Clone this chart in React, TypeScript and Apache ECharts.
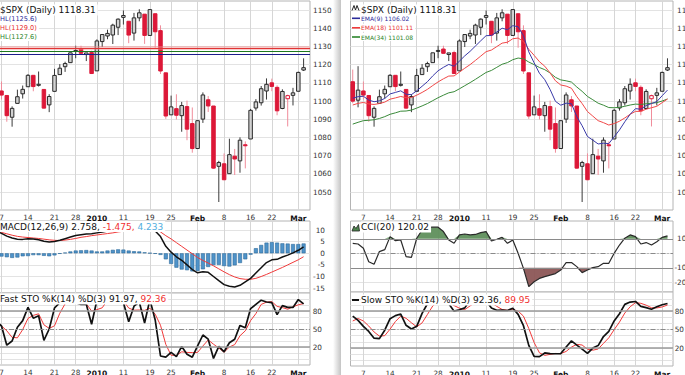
import React, { useEffect, useRef } from 'react';
import * as echarts from 'echarts';

// ---------- data (bar 0 = 2009-12-03) ----------
const dates = [
  '2009-12-03','2009-12-04','2009-12-07','2009-12-08','2009-12-09','2009-12-10','2009-12-11',
  '2009-12-14','2009-12-15','2009-12-16','2009-12-17','2009-12-18','2009-12-21','2009-12-22',
  '2009-12-23','2009-12-24','2009-12-28','2009-12-29','2009-12-30','2009-12-31','2010-01-04',
  '2010-01-05','2010-01-06','2010-01-07','2010-01-08','2010-01-11','2010-01-12','2010-01-13',
  '2010-01-14','2010-01-15','2010-01-19','2010-01-20','2010-01-21','2010-01-22','2010-01-25',
  '2010-01-26','2010-01-27','2010-01-28','2010-01-29','2010-02-01','2010-02-02','2010-02-03',
  '2010-02-04','2010-02-05','2010-02-08','2010-02-09','2010-02-10','2010-02-11','2010-02-12',
  '2010-02-16','2010-02-17','2010-02-18','2010-02-19','2010-02-22','2010-02-23','2010-02-24',
  '2010-02-25','2010-02-26','2010-03-01','2010-03-02',
];
const priorClose = 1109.24;
const opens = [
  1110.59,1100.43,1105.52,1103.04,1091.07,1098.69,1103.96,1107.84,1114.11,1108.61,
  1106.36,1097.86,1105.31,1114.51,1118.84,1121.08,1127.53,1128.55,1125.53,1126.60,
  1116.56,1132.66,1135.71,1136.27,1140.52,1145.96,1143.81,1137.31,1145.68,1147.72,
  1136.03,1147.95,1138.68,1115.49,1092.40,1095.80,1091.94,1096.93,1087.61,1073.89,
  1090.05,1100.67,1097.25,1064.12,1065.51,1060.06,1069.68,1067.10,1075.95,1079.13,
  1096.14,1099.03,1105.49,1110.00,1107.49,1095.89,1101.24,1103.10,1105.36,1117.01,
];
const highs = [
  1117.28,1119.13,1110.72,1103.04,1097.04,1106.25,1108.50,1114.76,1114.11,1116.21,
  1106.36,1103.74,1117.68,1120.27,1121.58,1126.48,1130.38,1130.38,1126.42,1127.64,
  1133.87,1136.63,1139.19,1142.46,1145.39,1149.74,1143.81,1148.40,1150.41,1147.77,
  1150.45,1147.95,1141.58,1115.49,1102.97,1103.69,1099.51,1100.22,1096.45,1089.38,
  1104.73,1102.72,1097.25,1067.13,1071.20,1079.28,1073.67,1080.04,1077.81,1095.67,
  1101.03,1108.24,1112.42,1112.29,1108.58,1106.42,1103.50,1107.24,1116.11,1123.46,
];
const lows = [
  1098.74,1096.52,1100.83,1088.61,1085.89,1098.69,1101.34,1107.84,1105.35,1107.96,
  1095.88,1093.88,1105.31,1114.51,1116.00,1121.08,1123.51,1126.08,1121.94,1114.81,
  1116.56,1129.66,1133.95,1131.32,1136.22,1142.02,1131.77,1133.18,1143.80,1131.39,
  1135.77,1129.25,1114.84,1090.18,1092.40,1089.86,1083.11,1078.46,1071.59,1073.89,
  1087.96,1093.97,1062.78,1044.50,1056.51,1060.06,1059.34,1060.59,1062.97,1079.13,
  1094.72,1097.48,1100.80,1105.38,1092.18,1095.50,1086.02,1097.56,1105.36,1116.51,
];
const closes = [
  1099.92,1105.98,1103.25,1091.94,1095.95,1102.35,1106.41,1114.11,1107.93,1109.18,
  1096.08,1102.47,1114.05,1118.02,1120.59,1126.48,1127.78,1126.20,1126.42,1115.10,
  1132.99,1136.52,1137.14,1141.69,1144.98,1146.98,1136.22,1145.68,1148.46,1136.03,
  1150.23,1138.04,1116.48,1091.76,1096.78,1092.17,1097.50,1084.53,1073.87,1089.19,
  1103.32,1097.28,1063.11,1066.19,1056.74,1070.52,1068.13,1078.47,1075.51,1094.87,
  1099.51,1106.75,1109.17,1108.01,1094.60,1105.24,1102.94,1104.49,1115.71,1118.31,
];
const ema9 = [
  1101.5,1102.4,1102.6,1100.5,1099.6,1100.1,1101.4,1103.9,1104.7,1105.6,
  1103.7,1103.5,1105.6,1108.1,1110.6,1113.8,1116.6,1118.5,1120.1,1119.1,
  1121.9,1124.8,1127.3,1130.2,1133.1,1135.9,1136.0,1137.9,1140.0,1139.2,
  1141.4,1140.8,1135.9,1127.0,1121.0,1115.2,1111.7,1106.3,1099.8,1097.7,
  1098.8,1098.5,1091.4,1086.4,1080.5,1078.5,1076.4,1076.8,1076.6,1080.3,
  1084.1,1088.6,1092.7,1095.8,1095.5,1097.5,1098.6,1099.7,1102.9,1106.0,
];
const ema18 = [
  1097.8,1098.7,1099.2,1098.4,1098.1,1098.6,1099.4,1101.0,1101.7,1102.5,
  1101.8,1101.9,1103.2,1104.7,1106.4,1108.5,1110.5,1112.2,1113.7,1113.8,
  1115.9,1118.0,1120.0,1122.3,1124.7,1127.1,1128.0,1129.9,1131.8,1132.3,
  1134.2,1134.6,1132.7,1128.4,1125.1,1121.6,1119.1,1115.4,1111.1,1108.8,
  1108.2,1107.0,1102.4,1098.6,1094.2,1091.7,1089.2,1088.1,1086.8,1087.6,
  1088.9,1090.7,1092.7,1094.3,1094.3,1095.5,1096.3,1097.1,1099.1,1101.1,
];
const ema34 = [
  1087.3,1088.3,1089.2,1089.4,1089.7,1090.4,1091.4,1092.7,1093.5,1094.4,
  1094.5,1095.0,1096.1,1097.3,1098.6,1100.2,1101.8,1103.2,1104.5,1105.1,
  1106.7,1108.4,1110.1,1111.9,1113.8,1115.7,1116.8,1118.5,1120.2,1121.1,
  1122.7,1123.6,1123.2,1121.4,1120.0,1118.4,1117.2,1115.4,1113.0,1111.6,
  1111.1,1110.4,1107.7,1105.3,1102.5,1100.7,1098.8,1097.7,1096.4,1096.3,
  1096.5,1097.1,1097.8,1098.3,1098.1,1098.5,1098.8,1099.1,1100.0,1101.1,
];
const macd = [
  10.0,9.4,8.6,7.4,6.6,6.1,6.0,6.3,6.2,5.8,
  5.2,4.9,5.1,5.6,6.3,7.0,7.7,8.0,8.3,8.4,
  8.8,9.2,9.6,10.0,10.4,10.6,10.4,10.5,10.6,10.2,
  10.4,9.6,7.2,3.0,0.5,-1.5,-3.0,-5.0,-7.0,-8.4,
  -8.0,-8.2,-10.0,-11.8,-13.5,-14.2,-14.5,-13.8,-12.3,-10.8,
  -8.5,-6.2,-4.0,-2.8,-2.6,-1.6,-0.8,0.2,1.3,2.758,
];
const macdSignal = [
  9.6,9.3,9.0,8.4,7.8,7.3,7.0,6.8,6.6,6.4,
  6.1,5.8,5.6,5.5,5.7,6.0,6.4,6.9,7.2,7.6,
  7.9,8.2,8.5,8.8,9.2,9.5,9.8,10.0,10.2,10.3,
  10.3,10.2,9.2,7.6,6.2,4.6,3.0,1.4,-0.2,-1.8,
  -3.1,-4.2,-5.4,-6.7,-8.0,-9.2,-10.2,-10.9,-11.2,-11.2,
  -10.8,-10.0,-9.1,-8.1,-7.1,-6.1,-5.0,-3.9,-2.8,-1.475,
];
const macdHist = [
  -0.5,-1.0,-1.4,-1.7,-2.0,-1.8,-1.3,-1.2,-0.8,-0.8,
  -1.1,-1.3,-0.9,-0.2,0.3,0.8,1.2,1.3,1.4,1.2,
  0.8,0.8,1.2,1.5,1.7,1.6,1.2,0.9,0.8,0.4,
  0.1,-0.2,-0.7,-2.6,-4.6,-6.2,-7.0,-7.3,-7.8,-7.6,
  -6.9,-5.9,-5.1,-5.0,-5.5,-5.7,-5.2,-4.2,-2.6,-0.6,
  2.2,3.6,4.6,4.8,4.6,4.3,4.2,4.0,4.0,4.233,
];
const fastK = [
  48,63,55,23,30,53,64,86,68,72,
  31,50,85,94,97,100,94,91,91,58,
  98,100,96,98,99,94,62,88,95,60,
  99,65,5,3,11,4,21,8,3,22,
  40,33,1,21,12,27,33,56,52,84,
  91,98,95,94,74,89,86,86,99,91.97,
];
const fastD = [
  72,65,55.3,47,36,35.3,49,67.7,72.7,75.3,
  57,51,55.3,76.3,92,97,97,95,92,80,
  82.3,85.3,98,98,97.7,97,85,81.3,81.7,81,
  84.7,74.7,56.3,24.3,6.3,6,12,11,10.7,11,
  21.7,31.7,24.7,18.3,11.3,20,24,38.7,47,64,
  75.7,91,94.7,95.7,87.7,85.7,83,87,90.3,92.36,
];
const cci = [
  69,64,35,-58,-76,12,25,115,87,92,
  -23,-28,104,161,179,180,180,150,92,69,
  127,133,127,130,143,150,85,97,110,69,
  92,0,-104,-230,-196,-173,-161,-150,-140,-115,
  -64,-64,-92,-133,-115,-99,-92,-69,-69,0,
  57,104,127,115,64,74,57,80,110,120.02,
];
const slowK = fastD;
const slowD = [
  64,68,64,55.8,46.1,39.4,40.1,50.7,63.1,71.9,
  68.3,61.1,54.4,60.9,74.5,88.4,95.3,96.3,94.7,89,
  84.8,82.5,88.5,93.8,97.9,97.6,93.2,87.8,82.7,81.3,
  82.5,80.1,71.9,51.8,29,12.2,8.1,9.7,11.2,10.9,
  14.5,21.5,26,24.9,18.1,16.5,18.4,27.6,36.6,49.9,
  62.2,76.9,87.1,93.8,92.7,89.7,85.5,85.2,86.8,89.95,
];
const hlLevels = [1125.6, 1129.0, 1127.6];
const tickIdx = [2, 7, 12, 16, 20, 25, 30, 34, 39, 44, 49, 53, 58];
const tickText = ['7', '14', '21', '28', '2010', '11', '19', '25', 'Feb', '8', '16', '22', 'Mar'];
const boldTicks = ['2010', 'Feb', 'Mar'];
const priceTicks = [1050, 1060, 1070, 1080, 1090, 1100, 1110, 1120, 1130, 1140, 1150];
const macdTicks = [-15, -10, -5, 0, 5, 10];
const stoLabelTicks = [20, 50, 80];
const stoGridTicks = [0, 10, 20, 30, 40, 50, 60, 70, 80, 90, 100];
const cciLabelTicks = [-200, -100, 100];
const cciGridTicks = [-200, -100, 0, 100];

// ---------- styling ----------
const FONT = 'DejaVu Sans';
const GRID_BORDER = '#b4b4b4';
const VGRID = '#d6d6d6';
const HGRID = '#e3e3e3';
const LEFT_X = { min: 1.528, max: 60.208 };
const RIGHT_X = { min: -0.418, max: 60.032 };

const pairs = (arr: number[]) => arr.map((v, i) => [i, v]);

const fmtX = (v: number) => {
  const j = tickIdx.indexOf(Math.round(v));
  if (j < 0) return '';
  const t = tickText[j];
  return boldTicks.includes(t) ? `{b|${t}}` : t;
};
const fmtY = (v: number) => String(Math.round(v));

const xAxisFor = (gridIndex: number, r: { min: number; max: number }, showLabels: boolean) => ({
  type: 'value', gridIndex, min: r.min, max: r.max,
  axisLine: { show: false, onZero: false },
  axisTick: { show: false, customValues: tickIdx },
  splitLine: { show: true, lineStyle: { color: VGRID, width: 1 } },
  axisLabel: {
    show: showLabels, customValues: tickIdx, formatter: fmtX, margin: 4,
    fontSize: 7.3, fontFamily: FONT, color: '#333',
    rich: { b: { fontWeight: 'bold', fontSize: 7.5, fontFamily: FONT, color: '#111' } },
  },
});

const yAxisFor = (gridIndex: number, min: number, max: number, labels: number[], ticks: number[], extra: any = {}) => ({
  type: 'value', gridIndex, min, max, position: 'right',
  axisLine: { show: false, onZero: false },
  axisTick: { show: false, customValues: ticks },
  splitLine: { show: true, lineStyle: { color: HGRID, width: 1 } },
  axisLabel: { show: true, customValues: labels, formatter: fmtY, fontSize: 7.3, fontFamily: FONT, color: '#333', margin: 3, ...extra },
});

const hl = (y: number, color: string, width: number, type: any = 'solid') => ({ yAxis: y, lineStyle: { color, width, type } });
const mk = (data: any[]) => ({ silent: true, symbol: ['none', 'none'], label: { show: false }, animation: false, data });
const DASHDOT = [5, 2, 1, 2];

const candleData = dates.map((_, i) => [i, opens[i], closes[i], lows[i], highs[i], i === 0 ? priorClose : closes[i - 1]]);

const renderCandle = (params: any, api: any) => {
  const x = api.value(0), o = api.value(1), c = api.value(2), l = api.value(3), h = api.value(4), pc = api.value(5);
  const pO = api.coord([x, o]);
  const pC = api.coord([x, c]);
  const pL = api.coord([x, l]);
  const pH = api.coord([x, h]);
  const red = c < pc;
  const hollow = c >= o;
  const top = Math.min(pO[1], pC[1]);
  const hgt = Math.max(Math.abs(pO[1] - pC[1]), 1);
  const cx = pO[0];
  const stroke = red ? '#dc1838' : '#2a2a2a';
  const wick = red ? '#f08c9a' : '#3a3a3a';
  const fill = hollow ? (red ? '#ffffff' : '#d2d2d2') : (red ? '#dc1838' : '#2a2a2a');
  return {
    type: 'group',
    children: [
      { type: 'line', shape: { x1: cx, y1: pH[1], x2: cx, y2: pL[1] }, style: { stroke: wick, lineWidth: 1 } },
      { type: 'rect', shape: { x: cx - 1.75, y: top, width: 3.5, height: hgt }, style: { fill, stroke, lineWidth: 1 } },
    ],
  };
};

const lineS = (xi: number, yi: number, data: number[], color: string, width: number, z = 3) => ({
  type: 'line', xAxisIndex: xi, yAxisIndex: yi, data: pairs(data), symbol: 'none', silent: true, z,
  lineStyle: { color, width }, animation: false,
});

const txtEl = (x: number, y: number, text: string, extra: any = {}) => ({
  type: 'text', x, y, z: 50, silent: true,
  style: {
    text, x: 0, y: 0, fill: '#111', fontSize: 9, fontFamily: FONT,
    align: 'left', verticalAlign: 'middle', textAlign: 'left', textVerticalAlign: 'middle',
    backgroundColor: '#ffffff', padding: [1, 2, 1, 0], ...extra,
  },
});
const seg = (x1: number, y1: number, x2: number, y2: number, color: string, w: number) => ({
  type: 'line', z: 51, silent: true, shape: { x1, y1, x2, y2 }, style: { stroke: color, lineWidth: w },
});

export default function App() {
  const ref = useRef<HTMLDivElement>(null);
  useEffect(() => {
    document.body.style.margin = '0';
    if (!ref.current) return;
    const chart = echarts.init(ref.current, null, { renderer: 'svg' });
    const gridBase = { show: true, borderColor: GRID_BORDER, borderWidth: 1, backgroundColor: '#fff', containLabel: false, outerBoundsMode: 'none' };
    const option: any = {
      animation: false,
      backgroundColor: '#ffffff',
      grid: [
        { ...gridBase, left: -1, top: 1, width: 311, height: 209 },
        { ...gridBase, left: -1, top: 221, width: 311, height: 72 },
        { ...gridBase, left: -1, top: 293, width: 311, height: 72 },
        { ...gridBase, left: 350.5, top: 1, width: 322.5, height: 209 },
        { ...gridBase, left: 350.5, top: 221, width: 322.5, height: 71 },
        { ...gridBase, left: 350.5, top: 292, width: 322.5, height: 74 },
      ],
      xAxis: [
        xAxisFor(0, LEFT_X, true),
        xAxisFor(1, LEFT_X, false),
        xAxisFor(2, LEFT_X, true),
        xAxisFor(3, RIGHT_X, true),
        xAxisFor(4, RIGHT_X, false),
        xAxisFor(5, RIGHT_X, true),
      ],
      yAxis: [
        yAxisFor(0, 1040.11, 1154.95, priceTicks, priceTicks),
        yAxisFor(1, -17.11, 13.92, macdTicks, macdTicks, { align: 'right', margin: 15 }),
        yAxisFor(2, -10, 110, stoLabelTicks, stoGridTicks, { align: 'right', margin: 12 }),
        yAxisFor(3, 1040.11, 1154.95, priceTicks, priceTicks, { margin: 4 }),
        yAxisFor(4, -266.9, 222.8, cciLabelTicks, cciGridTicks, { align: 'right', margin: 18 }),
        yAxisFor(5, -9.2, 111.1, stoLabelTicks, stoGridTicks, { align: 'right', margin: 11 }),
      ],
      series: [
        // left main
        {
          type: 'line', xAxisIndex: 0, yAxisIndex: 0, data: [], silent: true, z: 2,
          markLine: mk([
            hl(hlLevels[1], 'rgba(240,140,140,0.45)', 4),
            hl(hlLevels[0], '#1c1c8a', 1),
            hl(hlLevels[2], '#1f7a1f', 1),
            hl(hlLevels[1], '#e03434', 1),
          ]),
        },
        { type: 'custom', xAxisIndex: 0, yAxisIndex: 0, data: candleData, renderItem: renderCandle, clip: true, silent: true, z: 4, encode: { x: 0, y: [1, 2, 3, 4] } },
        // left MACD
        {
          type: 'bar', xAxisIndex: 1, yAxisIndex: 1, data: pairs(macdHist), barWidth: 4, silent: true, z: 2,
          itemStyle: { color: '#4f93c9', borderColor: '#2d6a9a', borderWidth: 0.6 },
        },
        lineS(1, 1, macdSignal, '#f03a3a', 1),
        lineS(1, 1, macd, '#111111', 1.5, 4),
        // left fast STO
        {
          type: 'line', xAxisIndex: 2, yAxisIndex: 2, data: [], silent: true, z: 2,
          markLine: mk([hl(80, '#9a9a9a', 1.5), hl(20, '#9a9a9a', 1.5), hl(50, '#8a8a8a', 1, DASHDOT)]),
        },
        lineS(2, 2, fastD, '#f03a3a', 1),
        lineS(2, 2, fastK, '#111111', 1.7, 4),
        // right main
        { type: 'custom', xAxisIndex: 3, yAxisIndex: 3, data: candleData, renderItem: renderCandle, clip: true, silent: true, z: 3, encode: { x: 0, y: [1, 2, 3, 4] } },
        lineS(3, 3, ema34, '#3a8a3a', 1, 5),
        lineS(3, 3, ema18, '#f04848', 1, 5),
        lineS(3, 3, ema9, '#3a3aa8', 1, 5),
        // right CCI
        {
          type: 'line', xAxisIndex: 4, yAxisIndex: 4, data: cci.map((v, i) => [i, Math.max(v, 100)]), symbol: 'none', silent: true, z: 2,
          lineStyle: { width: 0, opacity: 0 }, areaStyle: { origin: 100, color: '#5f8f5c', opacity: 0.95 },
        },
        {
          type: 'line', xAxisIndex: 4, yAxisIndex: 4, data: cci.map((v, i) => [i, Math.min(v, -100)]), symbol: 'none', silent: true, z: 2,
          lineStyle: { width: 0, opacity: 0 }, areaStyle: { origin: -100, color: '#8c5656', opacity: 0.95 },
          markLine: mk([hl(100, '#8a8a8a', 1.2), hl(-100, '#8a8a8a', 1.2), hl(0, '#8a8a8a', 1, DASHDOT)]),
        },
        lineS(4, 4, cci, '#2a2a2a', 1.2, 4),
        // right slow STO
        {
          type: 'line', xAxisIndex: 5, yAxisIndex: 5, data: [], silent: true, z: 2,
          markLine: mk([hl(80, '#9a9a9a', 1.5), hl(20, '#9a9a9a', 1.5), hl(50, '#8a8a8a', 1, DASHDOT)]),
        },
        lineS(5, 5, slowD, '#f03a3a', 1),
        lineS(5, 5, slowK, '#111111', 1.7, 4),
      ],
      graphic: [
        // page edge shadow between the two charts
        {
          type: 'rect', z: 40, silent: true, shape: { x: 333, y: 0, width: 8, height: 375 },
          style: { fill: new echarts.graphic.LinearGradient(0, 0, 1, 0, [{ offset: 0, color: '#ffffff' }, { offset: 1, color: '#c4c4c4' }]) },
        },
        // left legends
        txtEl(0, 10, '$SPX (Daily) 1118.31'),
        txtEl(0, 19, 'HL(1125.6)', { fill: '#2a2a9a', fontSize: 6.6 }),
        txtEl(0, 28, 'HL(1129.0)', { fill: '#e83030', fontSize: 6.6 }),
        txtEl(0, 36.5, 'HL(1127.6)', { fill: '#2a852a', fontSize: 6.6 }),
        txtEl(0, 226.5, 'MACD(12,26,9) 2.758, {r|-1.475,} {c|4.233}', {
          rich: { r: { fill: '#f03030', fontSize: 9, fontFamily: FONT }, c: { fill: '#52aee0', fontSize: 9, fontFamily: FONT } },
        }),
        txtEl(0, 299, 'Fast STO %K(14) %D(3) 91.97, {r|92.36}', {
          rich: { r: { fill: '#f03030', fontSize: 9, fontFamily: FONT } },
        }),
        // right legends
        seg(352, 10.5, 354, 5.5, '#222', 1), seg(354, 5.5, 355.5, 10, '#222', 1), seg(355.5, 10, 357, 5.5, '#222', 1), seg(357, 5.5, 359, 10.5, '#222', 1),
        txtEl(361, 10, '$SPX (Daily) 1118.31'),
        seg(352, 18.3, 360, 18.3, '#2a2a9a', 1.6),
        txtEl(361, 18.3, 'EMA(9) 1106.02', { fill: '#2a2a9a', fontSize: 6 }),
        seg(352, 27.8, 360, 27.8, '#f03a3a', 1.6),
        txtEl(361, 27.8, 'EMA(18) 1101.11', { fill: '#e83030', fontSize: 6 }),
        seg(352, 37, 360, 37, '#2a852a', 1.6),
        txtEl(361, 37, 'EMA(34) 1101.08', { fill: '#2a852a', fontSize: 6 }),
        {
          type: 'polygon', z: 51, silent: true,
          shape: { points: [[352, 231], [354, 226], [356, 228.5], [358.5, 224.5], [359.5, 231]] },
          style: { fill: '#4f864f', stroke: '#222', lineWidth: 0.8 },
        },
        txtEl(361, 227, 'CCI(20) 120.02'),
        seg(352, 300, 359, 300, '#111', 2),
        txtEl(361, 300, 'Slow STO %K(14) %D(3) 92.36, {r|89.95}', {
          rich: { r: { fill: '#f03030', fontSize: 9, fontFamily: FONT } },
        }),
      ],
    };
    chart.setOption(option);
    return () => chart.dispose();
  }, []);
  return <div ref={ref} style={{ width: 685, height: 375 }} />;
}
